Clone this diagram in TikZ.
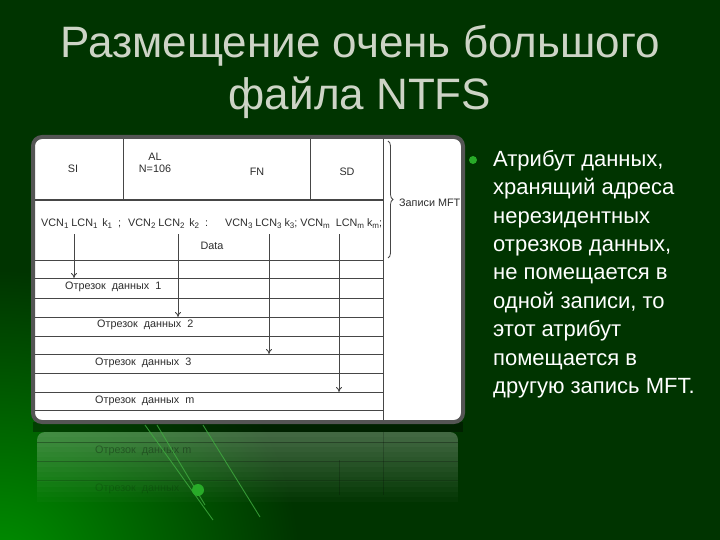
\documentclass[tikz,border=0pt]{standalone}
\usepackage{fontspec}
\setmainfont{Liberation Sans}
\usetikzlibrary{arrows.meta,decorations.pathreplacing}
\definecolor{bg}{RGB}{0,52,0}
\definecolor{titlec}{RGB}{205,212,198}
\definecolor{tline}{RGB}{70,70,70}
\definecolor{ttext}{RGB}{45,45,45}
\definecolor{lgreen}{RGB}{0,145,0}
\definecolor{framec}{RGB}{85,85,85}
\definecolor{dotc}{RGB}{40,170,40}
\newcommand{\mysub}[1]{\raisebox{-2.5pt}{\fontsize{8}{9}\selectfont #1}}
\tikzset{
  titletext/.style={font=\fontsize{44}{48}\selectfont, text=titlec, inner sep=0pt, anchor=base},
  cell/.style={font=\fontsize{10.8}{12}\selectfont, text=ttext, inner sep=0pt},
  tl/.style={draw=tline, line width=0.9pt},
  arr/.style={draw=tline, line width=0.9pt, -{To[length=5pt,width=6pt]}},
  refl/.style={draw=black, opacity=0.3, line width=0.9pt},
  deco/.style={draw=lgreen!75!white, line width=0.9pt, opacity=0.8}
}
\begin{document}
\begin{tikzpicture}[x=1pt,y=-1pt]
\useasboundingbox (0,0) rectangle (720,540);
\fill[bg] (0,0) rectangle (720,540);
\begin{scope}
  \clip (0,0) rectangle (720,540);
  \shade[inner color=lgreen, outer color=bg] (0,570) circle (300);
\end{scope}

% title
\node[titletext] (t1) at (360,58) {Размещение очень большого};
\node[titletext] (t2) at (360,110) {файла NTFS};

% reflection
\fill[black, opacity=0.35] (33,422) rectangle (463,432);
\begin{scope}
  \clip[rounded corners=8] (37,432) rectangle (458,520);
  \foreach \i in {0,...,13} {
    \pgfmathsetmacro{\op}{0.26*(1-\i/14)}
    \fill[white, opacity=\op] (37,432+5*\i) rectangle (458,437+5*\i);
  }
\end{scope}
\draw[refl] (37,442) -- (458,442);
\draw[refl, opacity=0.25] (37,461) -- (458,461);
\draw[refl, opacity=0.18] (37,480) -- (458,480);
\draw[refl, opacity=0.2] (383,432) -- (383,495);
\draw[refl, opacity=0.2] (339,460) -- (339,495);
\node[cell, anchor=west, text=black, opacity=0.3] (r1) at (95,451) {Отрезок \ данных m};
\node[cell, anchor=west, text=black, opacity=0.15] (r2) at (95,489) {Отрезок \ данных};
\draw[deco] (145,425) -- (213,520);
\draw[deco] (157,425) -- (205,505);
\draw[deco] (203,425) -- (260,517);
\fill[dotc] (198,490) circle (6);

% frame
\draw[line width=4pt, draw=framec, fill=white, rounded corners=9] (33,137) rectangle (463,422);

\begin{scope}
  \clip (35,139) rectangle (461,420);
  % header
  \draw[tl] (123,139) -- (123,200);
  \draw[tl] (310,139) -- (310,200);
  \draw[tl] (383,139) -- (383,420);
  \draw[tl, line width=1.4pt] (35,200) -- (383,200);
  \foreach \yy in {260,278,298,317,336,354,373,392,410} {
    \draw[tl] (35,\yy) -- (383,\yy);
  }
  \node[cell] (si) at (73,169) {SI};
  \node[cell, align=center] (al) at (155,163) {AL\\N=106};
  \node[cell] (fn) at (257,172) {FN};
  \node[cell] (sd) at (347,172) {SD};

  \node[cell, anchor=base west] (v1) at (41,226) {VCN\mysub{1} LCN\mysub{1} \,k\mysub{1} \ ;};
  \node[cell, anchor=base west] (v2) at (128,226) {VCN\mysub{2} LCN\mysub{2} \,k\mysub{2} \ :};
  \node[cell, anchor=base west] (v3) at (225,226) {VCN\mysub{3} LCN\mysub{3} k\mysub{3}; VCN\mysub{m} \ LCN\mysub{m} k\mysub{m};};
  \node[cell] (data) at (212,246) {Data};

  \node[cell, anchor=west] (s1) at (65,287) {Отрезок \ данных \ 1};
  \node[cell, anchor=west] (s2) at (97,325) {Отрезок \ данных \ 2};
  \node[cell, anchor=west] (s3) at (95,363) {Отрезок \ данных \ 3};
  \node[cell, anchor=west] (s4) at (95,401) {Отрезок \ данных \ m};

  \coordinate (a1s) at (74,234); \coordinate (a1e) at (74,278);
  \coordinate (a2s) at (178,234); \coordinate (a2e) at (178,317);
  \coordinate (a3s) at (269,234); \coordinate (a3e) at (269,354);
  \coordinate (a4s) at (339,234); \coordinate (a4e) at (339,392);
  \draw[arr] (a1s) -- (a1e);
  \draw[arr] (a2s) -- (a2e);
  \draw[arr] (a3s) -- (a3e);
  \draw[arr] (a4s) -- (a4e);

  \coordinate (bt) at (388,141);
  \coordinate (bb) at (388,258);
  \draw[draw=tline, line width=0.8pt, decorate, decoration={brace, amplitude=5pt}] (bt) -- (bb);
  \node[cell, anchor=west] (mft) at (399,203) {Записи MFT};
\end{scope}

% bullet text
\fill[dotc] (473,160) circle (4);
\node[anchor=north west, inner sep=0pt, font=\fontsize{22}{28.4}\selectfont, text=white, align=left] (txt) at (493,150)
 {Атрибут данных,\\хранящий адреса\\нерезидентных\\отрезков данных,\\не помещается в\\одной записи, то\\этот атрибут\\помещается в\\другую запись MFT.};
\end{tikzpicture}
\end{document}
